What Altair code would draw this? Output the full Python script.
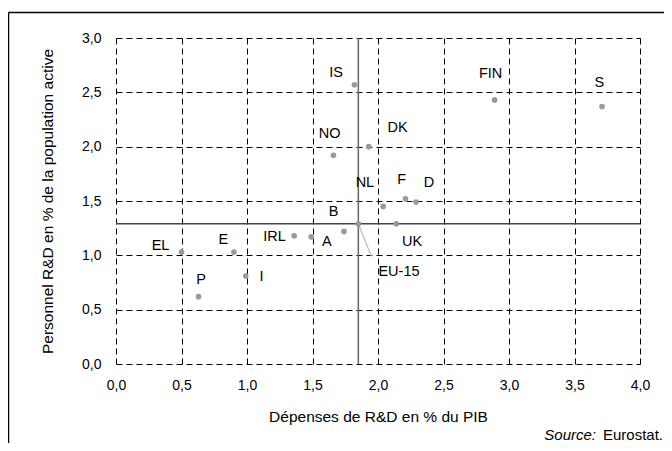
import altair as alt
import pandas as pd

# Data
countries = ["IS", "NO", "DK", "EU-15", "EL", "E", "P", "I", "IRL", "A", "B",
             "UK", "NL", "FIN", "S", "F", "D"]
rd_spend = [1.82, 1.66, 1.93, 1.85, 0.50, 0.90, 0.63, 0.99, 1.36, 1.49, 1.74,
            2.14, 2.04, 2.89, 3.71, 2.21, 2.29]
rd_staff = [2.57, 1.92, 2.00, 1.29, 1.03, 1.03, 0.62, 0.81, 1.18, 1.17, 1.22,
            1.29, 1.45, 2.43, 2.37, 1.52, 1.49]
# label anchor positions (data units)
label_x = [1.68, 1.63, 2.15, 2.16, 0.34, 0.82, 0.65, 1.11, 1.21, 1.61, 1.66,
           2.26, 1.90, 2.86, 3.69, 2.18, 2.39]
label_y = [2.68, 2.12, 2.17, 0.85, 1.09, 1.14, 0.77, 0.80, 1.17, 1.12, 1.40,
           1.12, 1.67, 2.67, 2.59, 1.69, 1.67]

eu_x = 1.85
eu_y = 1.29
leader = {"x": [1.85, 1.95], "y": [1.29, 0.99]}

x_ticks = [0, 0.5, 1, 1.5, 2, 2.5, 3, 3.5, 4]
y_ticks = [0, 0.5, 1, 1.5, 2, 2.5, 3]

FONT = "Liberation Sans"
W, H = 524, 326

df = pd.DataFrame({"pays": countries, "x": rd_spend, "y": rd_staff,
                   "lx": label_x, "ly": label_y})

fmt = "replace(format(datum.value, '.1f'), '.', ',')"

xscale = alt.Scale(domain=[0, 4], nice=False, zero=False)
yscale = alt.Scale(domain=[0, 3], nice=False, zero=False)

xaxis = alt.Axis(values=x_ticks, labelExpr=fmt, grid=True, gridDash=[6, 4],
                 gridColor="black", gridOpacity=1, gridWidth=1, domain=False,
                 ticks=False, labelFont=FONT, labelFontSize=14, labelColor="black",
                 labelPadding=14, labelFlush=False, labelOverlap=False,
                 title="Dépenses de R&D en % du PIB",
                 titleFont=FONT, titleFontSize=15.5, titleFontWeight="normal",
                 titleColor="black", titlePadding=17)
yaxis = alt.Axis(values=y_ticks, labelExpr=fmt, grid=True, gridDash=[6, 4],
                 gridColor="black", gridOpacity=1, gridWidth=1, domain=False,
                 ticks=False, labelFont=FONT, labelFontSize=14, labelColor="black",
                 labelPadding=15, labelFlush=False, labelOverlap=False,
                 title="Personnel R&D en % de la population active",
                 titleFont=FONT, titleFontSize=15.5, titleFontWeight="normal",
                 titleColor="black", titlePadding=26)

base = alt.Chart(df)

grid = base.mark_point(opacity=0).encode(
    x=alt.X("x:Q", scale=xscale, axis=xaxis),
    y=alt.Y("y:Q", scale=yscale, axis=yaxis),
)

vline = alt.Chart(pd.DataFrame({"v": [eu_x]})).mark_rule(color="#666666", strokeWidth=1.5).encode(
    x=alt.X("v:Q", scale=xscale))
hline = alt.Chart(pd.DataFrame({"h": [eu_y]})).mark_rule(color="#444444", strokeWidth=1.5).encode(
    y=alt.Y("h:Q", scale=yscale))

lead = alt.Chart(pd.DataFrame(leader)).mark_line(color="#bbbbbb", strokeWidth=1.2).encode(
    x=alt.X("x:Q", scale=xscale), y=alt.Y("y:Q", scale=yscale))

dots = base.mark_circle(size=32, color="#999999", opacity=1).encode(
    x=alt.X("x:Q", scale=xscale), y=alt.Y("y:Q", scale=yscale))

labels = base.mark_text(font=FONT, fontSize=14.5, color="black", align="center",
                        baseline="middle").encode(
    x=alt.X("lx:Q", scale=xscale), y=alt.Y("ly:Q", scale=yscale), text="pays:N")

src1 = alt.Chart(pd.DataFrame({"t": ["Source:"]})).mark_text(
    font=FONT, fontSize=15, fontStyle="italic", color="black", align="right",
    baseline="middle").encode(x=alt.value(480), y=alt.value(397), text="t:N")
src2 = alt.Chart(pd.DataFrame({"t": ["Eurostat."]})).mark_text(
    font=FONT, fontSize=15, color="black", align="left",
    baseline="middle").encode(x=alt.value(487), y=alt.value(397), text="t:N")

frame_top = alt.Chart(pd.DataFrame({"a": [0]})).mark_rule(color="black", strokeWidth=1.5, clip=False).encode(
    x=alt.value(-107.5), x2=alt.value(548), y=alt.value(-25.5))
frame_left = alt.Chart(pd.DataFrame({"a": [0]})).mark_rule(color="black", strokeWidth=1.5, clip=False).encode(
    x=alt.value(-107.5), y=alt.value(-25.5), y2=alt.value(405))

chart = alt.layer(grid, vline, hline, lead, dots, labels, src1, src2,
                  frame_top, frame_left).properties(
    width=W, height=H,
    autosize=alt.AutoSizeParams(type="none"),
    padding={"left": 108, "top": 30, "right": 24, "bottom": 79},
    background="white",
).configure_view(stroke=None)

chart.save("out.html", embed_options={"renderer": "svg", "actions": False})
